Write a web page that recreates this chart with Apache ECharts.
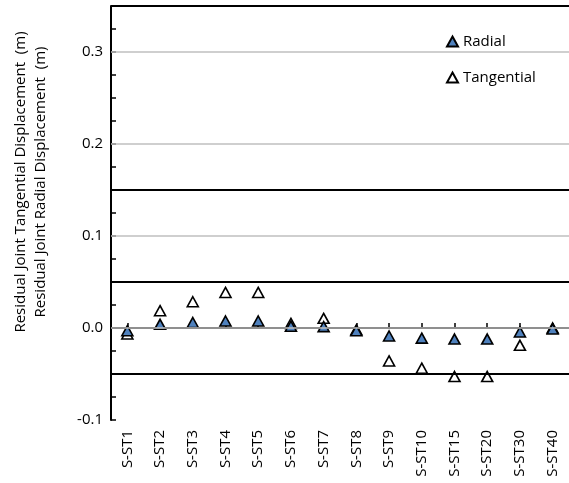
<!DOCTYPE html>
<html>
<head>
<meta charset="utf-8">
<script src="https://cdn.jsdelivr.net/npm/echarts@6/dist/echarts.min.js"></script>
<style>html,body{margin:0;padding:0;background:#fff}#c{width:569px;height:483px}</style>
</head>
<body>
<div id="c"></div>
<script>
const categories = ['S-ST1','S-ST2','S-ST3','S-ST4','S-ST5','S-ST6','S-ST7','S-ST8','S-ST9','S-ST10','S-ST15','S-ST20','S-ST30','S-ST40'];
const radial = [-0.003, 0.004, 0.006, 0.0076, 0.0076, 0.002, 0.0015, -0.003, -0.0087, -0.011, -0.012, -0.012, -0.0043, -0.001];
const tangential = [-0.0065, 0.0188, 0.0285, 0.0387, 0.0387, 0.005, 0.0105, -0.002, -0.0358, -0.0437, -0.0528, -0.0528, -0.0188, 0.0];
const grayLines = [0, 0.1, 0.2, 0.3];
const blackLines = [0.35, 0.15, 0.05, -0.05];
const yMin = -0.1, yMax = 0.35;

const FONT = '"Open Sans", sans-serif';
const chart = echarts.init(document.getElementById('c'), null, {renderer: 'canvas'});
chart.setOption({
  animation: false,
  backgroundColor: '#fff',
  grid: {left: 111, top: 6, width: 463, height: 414},
  legend: {
    orient: 'vertical', left: 441, top: 29, itemWidth: 11, itemHeight: 10, itemGap: 21,
    icon: 'triangle',
    textStyle: {fontFamily: FONT, fontSize: 15, color: '#000'},
    data: ['Radial', 'Tangential']
  },
  xAxis: {
    type: 'category', data: categories, boundaryGap: true,
    axisLine: {show: true, lineStyle: {color: '#000', width: 2}},
    axisTick: {show: true, alignWithLabel: true, inside: true, length: 5, lineStyle: {color: '#000', width: 1.5}},
    axisLabel: {rotate: 90, interval: 0, margin: 10, color: '#000', fontFamily: FONT, fontSize: 15},
    splitLine: {show: false}
  },
  yAxis: {
    type: 'value', min: yMin, max: yMax, interval: 0.025,
    name: 'Residual Joint Tangential Displacement  (m)\nResidual Joint Radial Displacement  (m)',
    nameLocation: 'middle', nameGap: 60,
    nameTextStyle: {fontFamily: FONT, fontSize: 15, color: '#000', lineHeight: 20, padding: [0, 0, 0, 62]},
    axisLine: {show: true, lineStyle: {color: '#000', width: 2}},
    axisTick: {show: true, inside: true, length: 5, lineStyle: {color: '#000', width: 1.5}},
    axisLabel: {
      margin: 8, color: '#000', fontFamily: FONT, fontSize: 15,
      formatter: v => {
        const t = Math.round(v * 1000);
        return (t % 100 === 0 && t < 350) ? (t / 1000).toFixed(1) : '';
      }
    },
    splitLine: {show: false}
  },
  series: [
    {
      name: 'lines', type: 'line', data: [], z: 1, silent: true,
      markLine: {
        silent: true, symbol: 'none', label: {show: false}, animation: false,
        data: grayLines.map(v => ({yAxis: v, lineStyle: {color: '#bfbfbf', width: 1.5, type: 'solid'}}))
          .concat(blackLines.map(v => ({yAxis: v, lineStyle: {color: '#000', width: 2, type: 'solid'}})))
      }
    },
    {
      name: 'Tangential', type: 'scatter', data: tangential, z: 3,
      symbol: 'triangle', symbolSize: [11, 10],
      itemStyle: {color: '#ffffff', borderColor: '#000', borderWidth: 1.6, opacity: 1}
    },
    {
      name: 'Radial', type: 'scatter', data: radial, z: 4,
      symbol: 'triangle', symbolSize: [11, 10],
      itemStyle: {color: '#4f81bd', borderColor: '#000', borderWidth: 1.6, opacity: 1}
    }
  ]
});
</script>
</body>
</html>
